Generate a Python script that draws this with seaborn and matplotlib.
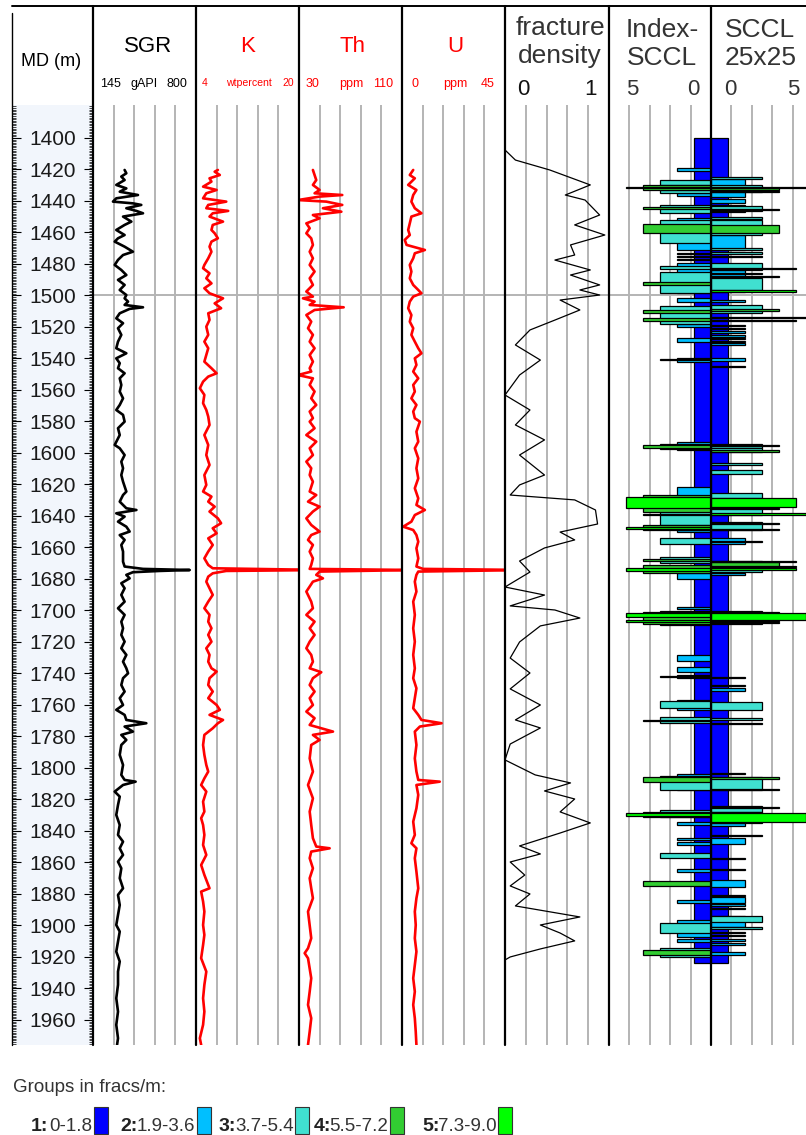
import numpy as np
import pandas as pd
import matplotlib
matplotlib.use("Agg")
import matplotlib.pyplot as plt
from matplotlib.lines import Line2D
from matplotlib.patches import Rectangle
import seaborn as sns

# ---------------- data ----------------
md_labels = list(range(1400, 1961, 20))

sgr_depth = [1420.3,1422.4,1424.5,1426.7,1429.8,1432.0,1434.1,1436.2,1438.3,1440.4,1441.5,1442.5,1444.6,1446.3,1447.8,1449.9,1453.1,1455.2,1458.4,1461.6,1463.7,1465.8,1469.0,1472.2,1474.3,1477.4,1480.6,1483.8,1487.0,1490.1,1493.3,1496.5,1499.7,1501.8,1503.9,1506.0,1507.5,1508.5,1511.3,1514.5,1517.6,1520.8,1525.0,1529.3,1533.5,1536.7,1539.9,1543.0,1546.2,1549.4,1552.6,1556.8,1561.0,1565.3,1569.5,1572.7,1575.8,
             1580.1,1584.3,1588.6,1594.9,1597.0,1601.3,1605.5,1609.7,1614.0,1618.2,1624.5,1626.7,1630.9,1635.1,1636.2,1638.3,1640.4,1643.6,1646.8,1649.9,1652.1,1655.2,1658.4,1662.6,1669.0,1672.1,1673.6,1674.3,1674.9,1675.7,1677.4,1679.6,1682.7,1685.9,1690.1,1694.4,1698.6,1702.8,1707.1,1711.3,1715.5,1719.8,1724.0,1728.2,1732.5,1736.7,1739.9,1743.0,1747.3,1751.5,1755.7,1760.0,1763.1,1766.3,1769.5,1771.6,1773.7,
             1776.9,1779.0,1782.2,1785.4,1791.7,1798.1,1804.4,1807.6,1808.7,1810.8,1815.0,1818.2,1823.5,1829.8,1836.2,1842.5,1846.8,1851.0,1855.2,1859.5,1863.7,1870.0,1876.4,1880.6,1887.0,1893.3,1899.7,1903.9,1910.2,1916.6,1922.9,1929.3,1937.7,1946.2,1954.7,1963.1,1971.6,1975.8]
sgr_vals = [346,357,325,346,293,357,315,431,293,272,399,452,357,421,463,336,389,346,293,346,304,283,346,399,336,304,283,325,357,304,346,315,357,346,368,346,463,378,315,293,336,304,325,304,293,357,293,315,304,346,315,325,315,336,315,293,336,
            346,304,315,283,315,346,325,336,325,336,357,336,315,357,421,293,346,304,357,378,315,346,325,336,336,346,463,760,569,399,357,378,325,346,325,346,304,346,325,336,325,346,325,357,336,357,368,336,325,346,315,336,293,346,357,484,346,
            399,325,357,325,315,336,325,346,416,336,283,315,304,293,315,304,336,315,336,304,325,315,336,304,315,304,293,315,304,293,315,304,304,293,304,293,304,298]

k_depth = [1420.3,1421.4,1423.5,1425.6,1427.7,1430.9,1433.0,1435.1,1438.3,1440.4,1442.5,1444.6,1446.3,1447.8,1449.9,1453.1,1455.2,1458.4,1460.5,1463.7,1465.8,1469.0,1472.2,1476.4,1480.6,1482.7,1485.9,1489.1,1492.3,1495.4,1498.6,1501.8,1505.0,1508.1,1511.3,1515.5,1519.8,1525.0,1529.3,1533.5,1537.8,1542.0,1546.2,1549.4,1551.5,1554.7,1558.9,1563.1,1568.4,1572.7,1576.9,
           1582.2,1588.6,1594.9,1601.3,1607.6,1614.0,1620.3,1624.5,1627.7,1630.9,1634.1,1637.2,1641.5,1644.6,1647.8,1651.0,1654.2,1658.4,1662.6,1666.9,1671.1,1673.2,1674.3,1674.9,1676.4,1678.5,1681.7,1685.9,1690.1,1694.4,1698.6,1702.8,1707.1,1711.3,1715.5,1719.8,1724.0,1728.2,1732.5,1736.7,1738.8,1743.0,1747.3,1751.5,1755.7,1760.0,1763.1,1766.3,1769.5,1771.6,1774.8,
           1779.0,1785.4,1791.7,1798.1,1802.3,1806.6,1810.8,1815.0,1821.4,1827.7,1831.9,1836.2,1842.5,1848.9,1855.2,1861.6,1867.9,1876.4,1878.5,1884.8,1891.2,1899.7,1906.0,1912.4,1920.8,1929.3,1937.7,1946.2,1954.7,1963.1,1971.6,1975.8]
k_vals = [7.4,6.9,7.7,6.1,6.4,5.1,7.2,5.6,5.1,8.7,5.9,5.6,9.0,6.6,6.1,8.2,6.6,6.4,6.9,7.4,6.4,6.1,6.4,5.9,5.3,5.1,6.1,5.6,6.4,5.3,6.1,8.2,6.9,7.9,5.9,6.1,5.6,5.9,5.3,5.9,5.6,5.3,6.4,7.2,5.9,5.1,4.6,5.3,5.1,5.6,5.9,
          6.1,5.3,5.9,5.6,6.1,5.3,5.6,5.1,6.4,5.9,6.9,6.1,7.4,7.9,6.6,7.2,5.9,6.6,5.9,5.3,5.9,6.6,24.0,8.7,6.6,5.9,5.6,6.1,6.6,5.9,5.3,6.1,5.9,6.4,5.9,6.4,5.6,6.1,5.9,6.4,7.2,6.1,5.9,6.6,5.9,7.2,7.7,6.1,8.2,7.4,6.6,
          5.3,5.1,5.3,5.6,5.9,5.3,4.8,5.6,5.1,5.3,4.8,5.1,5.3,5.1,5.6,4.8,5.3,6.1,4.8,5.1,5.3,5.1,5.3,5.1,4.8,5.6,5.3,5.1,5.3,5.1,4.6,4.8]

th_depth = [1420.3,1423.5,1426.7,1429.8,1433.0,1435.1,1436.2,1437.2,1439.4,1440.4,1442.5,1444.6,1446.8,1448.9,1451.0,1454.2,1457.3,1460.5,1463.7,1467.9,1472.2,1476.4,1480.6,1484.8,1489.1,1493.3,1497.5,1500.7,1501.8,1503.9,1506.0,1507.5,1509.2,1512.4,1516.6,1520.8,1525.0,1529.3,1533.5,1537.8,1542.0,1546.2,1548.3,1550.5,1552.6,1556.8,1561.0,1565.3,1569.5,1573.7,1577.9,
            1580.1,1584.3,1588.6,1592.8,1597.0,1601.3,1605.5,1609.7,1614.0,1618.2,1624.5,1626.7,1630.9,1634.1,1637.2,1641.5,1645.7,1649.9,1652.1,1655.2,1658.4,1662.6,1666.9,1671.1,1673.6,1674.3,1675.3,1677.4,1679.6,1681.7,1688.0,1694.4,1698.6,1702.8,1707.1,1711.3,1715.5,1719.8,1724.0,1728.2,1732.5,1736.7,1739.2,1743.0,1747.3,1751.5,1755.7,1760.0,1764.2,1768.4,1772.7,
            1776.9,1779.0,1782.2,1785.4,1793.9,1802.3,1810.8,1819.3,1827.7,1836.2,1844.6,1849.9,1851.0,1853.1,1857.3,1863.7,1870.0,1876.4,1882.7,1891.2,1899.7,1908.1,1914.5,1917.6,1920.8,1927.2,1933.5,1942.0,1950.4,1958.9,1967.4,1975.8]
th_vals = [40.8,42.1,43.4,40.8,46.0,42.1,63.6,46.0,29.2,51.2,63.6,48.6,62.9,40.8,46.0,35.7,38.3,35.7,39.5,40.8,38.3,40.8,38.3,42.1,38.3,40.8,35.7,40.8,33.1,42.1,38.3,64.7,42.1,35.7,39.5,37.0,40.8,38.3,42.1,38.3,40.8,38.3,39.5,29.2,40.8,38.3,42.1,39.5,43.4,38.3,40.8,
           38.3,42.1,35.7,43.4,38.3,40.8,35.7,39.5,38.3,40.8,38.3,43.4,37.0,46.0,40.8,35.7,39.5,46.0,39.5,37.0,40.8,38.3,40.8,39.5,38.3,120.0,46.0,43.4,48.6,40.8,35.7,39.5,40.8,35.7,42.1,38.3,42.1,38.3,35.7,39.5,40.8,38.3,47.3,40.8,38.3,42.1,38.3,40.8,35.7,42.1,38.3,
           56.4,40.8,46.0,39.5,38.3,40.8,37.0,40.8,38.3,39.5,40.8,43.4,53.8,39.5,38.3,40.8,38.3,39.5,40.8,37.0,38.3,39.5,37.0,34.4,37.0,38.3,39.5,38.3,37.0,39.5,38.3,37.0]

u_depth = [1420.3,1423.5,1425.6,1429.8,1433.0,1436.2,1440.4,1444.6,1447.8,1449.9,1454.2,1458.4,1461.6,1464.7,1467.9,1471.1,1473.2,1476.4,1480.6,1484.8,1489.1,1493.3,1496.5,1498.6,1500.7,1503.9,1508.1,1512.4,1516.6,1520.8,1525.0,1529.3,1533.5,1536.7,1539.9,1544.1,1548.3,1552.6,1556.8,1561.0,1565.3,1569.5,1573.7,1577.9,
           1580.1,1586.5,1592.8,1597.0,1603.4,1609.7,1616.1,1622.4,1628.8,1633.0,1636.2,1639.4,1643.6,1646.8,1648.9,1652.1,1656.3,1660.5,1666.9,1672.1,1673.6,1674.3,1675.3,1677.4,1681.7,1688.0,1694.4,1702.8,1711.3,1719.8,1728.2,1736.7,1743.0,1749.4,1755.7,1762.1,1766.3,1769.5,1771.6,1773.7,
           1776.9,1785.4,1793.9,1802.3,1807.6,1808.7,1810.8,1817.1,1825.6,1834.1,1842.5,1847.8,1851.0,1857.3,1865.8,1876.4,1882.7,1891.2,1899.7,1908.1,1916.6,1925.1,1933.5,1942.0,1950.4,1958.9,1967.4,1975.8]
u_vals = [4.9,3.4,5.6,2.7,6.3,4.9,4.1,5.6,8.5,4.1,3.4,2.7,3.4,1.2,2.0,10.0,5.6,4.9,3.4,4.1,3.4,4.9,7.1,8.5,4.9,3.4,2.7,4.1,3.4,4.9,4.1,5.6,7.1,8.5,5.6,6.3,4.9,7.1,4.9,5.6,4.1,6.3,4.9,5.6,
          7.8,6.3,7.1,5.6,7.1,6.3,7.1,5.6,7.1,6.3,10.0,5.6,4.1,0.5,4.9,6.3,7.1,6.3,7.1,6.3,9.2,55.0,7.1,6.3,5.6,6.3,4.9,5.6,4.9,5.6,4.9,5.6,4.9,6.3,5.6,4.9,7.1,8.5,17.3,7.8,
          5.6,6.3,5.6,6.3,7.1,16.5,6.3,7.1,6.3,4.9,5.6,4.1,6.3,5.6,6.3,7.1,6.3,5.6,6.0,5.6,6.3,5.6,4.9,5.6,4.9,5.6,6.0,6.3]

fd_depth = [1407.6,1414.0,1420.3,1429.8,1436.2,1439.4,1448.9,1455.2,1461.6,1467.9,1474.3,1477.5,1483.8,1487.0,1493.3,1496.5,1499.7,1502.9,1509.2,1515.6,1521.9,1531.4,1541.0,1550.5,1563.2,1572.7,1582.2,1591.7,1601.3,1614.0,1620.3,1626.7,1629.8,1636.2,1645.1,1650.2,1655.2,1660.3,1668.6,1675.6,1685.1,1690.2,1697.1,1699.7,1704.8,1709.8,1720.0,1730.2,1739.7,1749.8,1760.0,1769.5,1774.6,1784.8,1794.9,1804.4,1809.5,1814.6,1819.7,1827.9,1834.9,1841.3,1849.5,1854.6,1859.7,1868.0,1874.9,1880.0,1887.6,1894.6,1899.7,1904.8,1909.8,1914.9,1920.0,1921.9]
fd_vals = [0.0,0.10,0.43,0.82,0.58,0.77,0.91,0.67,0.96,0.63,0.67,0.48,0.82,0.63,0.91,0.72,0.91,0.53,0.72,0.48,0.24,0.10,0.34,0.14,0.0,0.24,0.10,0.38,0.14,0.38,0.14,0.05,0.67,0.87,0.89,0.53,0.67,0.38,0.14,0.24,0.0,0.38,0.05,0.48,0.72,0.34,0.14,0.05,0.24,0.05,0.34,0.10,0.34,0.05,0.0,0.29,0.63,0.38,0.67,0.53,0.82,0.53,0.14,0.34,0.05,0.19,0.05,0.24,0.10,0.72,0.34,0.53,0.67,0.34,0.05,0.0]

# Index-SCCL intervals: top, bottom, group level
idx_top = [1400.2,1418.9,1426.7,1429.8,1430.9,1433.0,1435.1,1442.5,1443.6,1451.0,1452.0,1454.6,1472.8,1475.0,1476.6,1479.6,1481.1,1484.8,1491.2,1501.8,1506.7,1509.2,1514.5,1518.1,1527.2,1539.5,1540.2,1593.2,1594.1,1594.9,
           1621.8,1626.7,1627.7,1635.1,1638.6,1645.7,1646.8,1648.9,1654.2,1666.2,1667.5,1671.1,1673.2,1676.4,1697.6,1700.3,1700.8,1701.6,1705.9,1728.3,1736.1,1741.0,1741.5,1756.8,1757.5,1767.4,1769.4,
           1804.0,1804.8,1805.6,1826.7,1827.7,1828.8,1834.0,1844.7,1847.3,1854.2,1864.3,1871.5,1883.8,1896.5,1898.2,1908.8,1914.5,1915.5]
idx_bot = [1923.8,1420.8,1429.8,1433.0,1432.0,1435.1,1436.8,1447.8,1445.3,1471.1,1466.9,1460.5,1473.6,1475.8,1477.4,1498.6,1483.2,1498.6,1493.3,1503.9,1518.1,1511.3,1516.2,1519.8,1529.7,1542.0,1541.0,1598.1,1597.5,1596.6,
           1627.3,1637.3,1635.1,1645.7,1639.4,1648.9,1648.5,1650.2,1657.8,1670.0,1668.3,1676.4,1674.7,1680.0,1699.2,1709.2,1708.6,1704.2,1707.6,1731.9,1738.8,1743.0,1742.3,1763.2,1762.0,1771.6,1770.4,
           1814.0,1814.0,1808.8,1831.4,1831.4,1830.5,1836.2,1845.7,1848.9,1857.3,1865.8,1874.9,1885.5,1907.1,1905.0,1910.3,1919.8,1918.8]
idx_level = [1,2,3,4,5,3,2,3,4,2,3,4,2,2,2,2,3,3,4,2,3,4,4,2,2,2,3,2,3,4,
             2,4,5,3,4,4,5,2,3,3,4,4,5,2,2,3,4,5,5,2,2,2,3,2,3,3,4,
             2,3,4,3,4,5,2,2,2,3,2,4,2,2,3,2,3,4]

# SCCL 25x25 intervals: top, bottom, value
sc_top = [1399.8,1425.0,1426.2,1429.8,1431.0,1432.0,1433.8,1438.9,1442.5,1443.2,1445.2,1450.3,1452.0,1455.2,1461.5,1470.0,1472.6,1475.0,1479.6,1482.3,1483.8,1485.5,1487.4,1488.9,1496.8,1502.9,1506.1,1508.8,1513.5,1515.3,1518.5,1520.7,1522.8,1525.3,1527.0,1528.7,1530.4,1539.5,1544.6,
          1594.5,1595.0,1597.0,1598.3,1606.6,1610.8,1625.6,1628.8,1634.1,1634.7,1638.3,1643.6,1644.2,1648.1,1654.2,1655.8,1668.4,1669.0,1668.6,1671.6,1673.3,1676.4,1700.3,1700.8,1701.6,1707.2,
          1742.0,1747.3,1749.4,1757.9,1768.5,1771.3,1803.0,1805.5,1806.0,1813.2,1824.1,1824.7,1827.7,1828.8,1831.0,1835.1,1842.5,1844.6,1857.0,1864.0,1871.1,1880.6,1882.1,1886.6,1889.0,1894.0,1894.0,1901.2,1903.9,1906.0,1908.8,1911.4,1916.6]
sc_bot = [1923.8,1426.2,1437.4,1434.1,1432.0,1432.8,1434.6,1441.5,1446.8,1446.2,1446.0,1451.2,1461.5,1460.5,1471.0,1470.8,1473.4,1475.8,1483.8,1483.3,1497.6,1486.3,1488.2,1496.2,1497.6,1504.4,1511.4,1509.6,1514.5,1516.3,1519.3,1521.5,1523.6,1526.1,1527.8,1529.5,1531.2,1541.6,1545.4,
          1597.0,1595.8,1599.6,1599.1,1607.6,1613.5,1628.8,1634.1,1639.4,1635.5,1639.4,1648.9,1645.0,1648.9,1657.8,1656.6,1675.3,1673.0,1669.4,1672.4,1674.1,1677.6,1708.6,1707.0,1705.9,1708.0,
          1743.0,1747.9,1751.1,1763.2,1769.3,1772.1,1804.0,1814.0,1806.8,1814.0,1827.7,1825.5,1835.1,1834.0,1831.8,1836.8,1843.3,1848.2,1857.8,1864.8,1875.3,1881.4,1885.5,1887.4,1889.8,1901.2,1898.0,1902.2,1904.7,1906.8,1909.6,1912.2,1918.7]
sc_val = [1,3,2,3,5.6,4,4,2,2,3,4,3,3,4,2,3,3,3,3,5,2,3,4,3,5,2,3,4,5.6,5,2,2,2,2,2,2,2,2,2,
          3,4,3,4,3,3,3,5,3,4,5.6,3,4,4,2,3,3,4,5,5,5,2,3,4,5.6,4,
          2,2,2,3,3,3,2,3,4,4,3,4,3,5.6,4,2,3,2,2,2,2,2,2,2,2,2,3,3,2,2,2,2,2]

group_colors = ["#0000ff", "#00bfff", "#40e0d0", "#32cd32", "#00ff00"]
legend_ranges = ["0-1.8", "1.9-3.6", "3.7-5.4", "5.5-7.2", "7.3-9.0"]

# ---------------- figure ----------------
sns.set_theme(style="white")
plt.rcParams['font.family'] = ['Liberation Sans', 'DejaVu Sans']

W, H = 806, 1135
fig = plt.figure(figsize=(W / 100, H / 100), dpi=100)
fig.patch.set_facecolor('white')
TOP, BOT = 105, 1045
DMIN, DMAX = 1379.05, 1975.9
GRID = '#b4b4b4'


def track(x0, x1, xlim, grid):
    ax = fig.add_axes([x0 / W, 1 - BOT / H, (x1 - x0) / W, (BOT - TOP) / H])
    ax.set_facecolor('white')
    for s in ax.spines.values():
        s.set_visible(False)
    ax.set_xticks(grid)
    ax.set_yticks([])
    ax.tick_params(length=0, labelbottom=False, labelleft=False)
    ax.grid(axis='x', color=GRID, lw=1.4)
    ax.set_axisbelow(True)
    ax.axhline(1500, color=GRID, lw=1.4, zorder=0.6)
    ax.set_xlim(*xlim)
    ax.set_ylim(DMAX, DMIN)
    return ax


def fifths(a, b):
    return [a + (b - a) * i / 5 for i in range(1, 5)]


def curve(ax, depth, vals, color, lw, xlim):
    df = pd.DataFrame({'v': vals, 'd': depth})
    sns.lineplot(data=df, x='v', y='d', ax=ax, orient='y', sort=False,
                 estimator=None, color=color, lw=lw)
    ax.set_xlabel('')
    ax.set_ylabel('')
    ax.set_xlim(*xlim)
    ax.set_ylim(DMAX, DMIN)


# depth column
axm = fig.add_axes([12 / W, 1 - BOT / H, 81 / W, (BOT - TOP) / H])
axm.set_facecolor('#f2f6fc')
for s in axm.spines.values():
    s.set_visible(False)
axm.set_xlim(0, 1)
axm.set_ylim(DMAX, DMIN)
axm.set_xticks([])
axm.set_yticks(md_labels)
axm.set_yticks(np.arange(1380, 1976, 1), minor=True)
axm.tick_params(axis='y', which='major', direction='in', length=6.5, width=0.8,
                left=True, right=True, labelleft=False, color='black')
axm.tick_params(axis='y', which='minor', direction='in', length=3.2, width=0.5,
                left=True, right=True, color='black')
for d in md_labels:
    axm.text(0.5, d, str(d), transform=axm.get_yaxis_transform(), ha='center',
             va='center_baseline', fontsize=15, color='#1a1a1a')

# log tracks
ax_sgr = track(93, 196, (145, 800), fifths(145, 800))
curve(ax_sgr, sgr_depth, sgr_vals, 'black', 1.9, (145, 800))
ax_k = track(196, 299, (4, 20), fifths(4, 20))
curve(ax_k, k_depth, k_vals, '#ff0000', 1.9, (4, 20))
ax_th = track(299, 402, (30, 110), fifths(30, 110))
curve(ax_th, th_depth, th_vals, '#ff0000', 1.9, (30, 110))
ax_u = track(402, 505, (0, 45), fifths(0, 45))
curve(ax_u, u_depth, u_vals, '#ff0000', 1.9, (0, 45))
ax_fd = track(505, 609, (0, 1), fifths(0, 1))
curve(ax_fd, fd_depth, fd_vals, 'black', 0.9, (0, 1))

# Index-SCCL track (bars grow to the left)
ax_ix = track(609, 711, (6, 0), [1.2, 2.4, 3.6, 4.8])
order = np.argsort(idx_level, kind='stable')
for i in order:
    t, b, lv = idx_top[i], idx_bot[i], idx_level[i]
    ax_ix.barh((t + b) / 2, lv, height=b - t, left=0, color=group_colors[lv - 1],
               edgecolor='black', lw=0.9, zorder=2)
ax_ix.set_xlim(6, 0)
ax_ix.set_ylim(DMAX, DMIN)

# SCCL 25x25 track
ax_sc = track(711, 806, (0, 95 / 17), [1.2, 2.4, 3.6, 4.8])
order = np.argsort(sc_val, kind='stable')
for i in order:
    t, b, v = sc_top[i], sc_bot[i], sc_val[i]
    g = min(5, int(np.ceil(v - 0.01)))
    ax_sc.barh((t + b) / 2, v, height=b - t, left=0, color=group_colors[g - 1],
               edgecolor='black', lw=0.9, zorder=2)
ax_sc.set_xlim(0, 95 / 17)
ax_sc.set_ylim(DMAX, DMIN)

# ---------------- frame lines ----------------
def fx(x):
    return x / W


def fy(y):
    return 1 - y / H


fig.lines.append(Line2D([fx(12), fx(806)], [fy(6), fy(6)], color='black', lw=1.4,
                        transform=fig.transFigure))
fig.lines.append(Line2D([fx(12), fx(12)], [fy(13), fy(BOT)], color='black', lw=1.0,
                        transform=fig.transFigure))
for xb in [93, 196, 299, 402, 505, 609, 711]:
    fig.lines.append(Line2D([fx(xb), fx(xb)], [fy(6), fy(BOT)], color='black', lw=1.6,
                            transform=fig.transFigure, zorder=5))

# ---------------- header ----------------
def T(x, y, s, size, color='black', ha='center', weight='normal'):
    fig.text(fx(x), fy(y), s, ha=ha, va='baseline', fontsize=size, color=color,
             fontweight=weight)


RED = '#ff0000'
DG = '#333333'
T(51, 66, 'MD (m)', 13)
T(148, 52, 'SGR', 16)
T(248, 52, 'K', 16, RED)
T(352, 52, 'Th', 16, RED)
T(455, 52, 'U', 16, RED)
T(110, 87, '145', 9)
T(144, 87, 'gAPI', 9)
T(177, 87, '800', 9)
T(205, 86, '4', 7.5, RED)
T(249, 86, 'wtpercent', 7.6, RED)
T(288, 86, '20', 7.5, RED)
T(313, 87, '30', 9, RED)
T(351, 87, 'ppm', 9, RED)
T(383, 87, '110', 9, RED)
T(415, 87, '0', 9, RED)
T(455, 87, 'ppm', 9, RED)
T(488, 87, '45', 9, RED)
T(560, 35, 'fracture', 19, DG)
T(560, 63, 'density', 19, DG)
T(523, 95, '0', 16, '#111111')
T(590, 95, '1', 16, '#111111')
T(662, 37, 'Index-', 19, DG)
T(662, 65, 'SCCL', 19, DG)
T(632, 95, '5', 16, DG)
T(693, 95, '0', 16, DG)
T(760, 37, 'SCCL', 19, DG)
T(761, 65, '25x25', 19, DG)
T(730, 95, '0', 16, DG)
T(793, 95, '5', 16, DG)

# ---------------- legend ----------------
T(13, 1092, 'Groups in fracs/m:', 13.5, DG, ha='left')
num_x = [31, 120, 219, 314, 422]
sq_x = [94, 197, 295, 390, 498]
for i in range(5):
    T(num_x[i], 1131, f'{i + 1}:', 14, '#222222', ha='left', weight='bold')
    T(sq_x[i] - 1.5, 1131, legend_ranges[i], 13.5, DG, ha='right')
    fig.patches.append(Rectangle((fx(sq_x[i]), fy(1134)), 14 / W, 27 / H,
                                 facecolor=group_colors[i], edgecolor='#333333', lw=0.8,
                                 transform=fig.transFigure))

fig.savefig('out.png', dpi=100, facecolor='white')
